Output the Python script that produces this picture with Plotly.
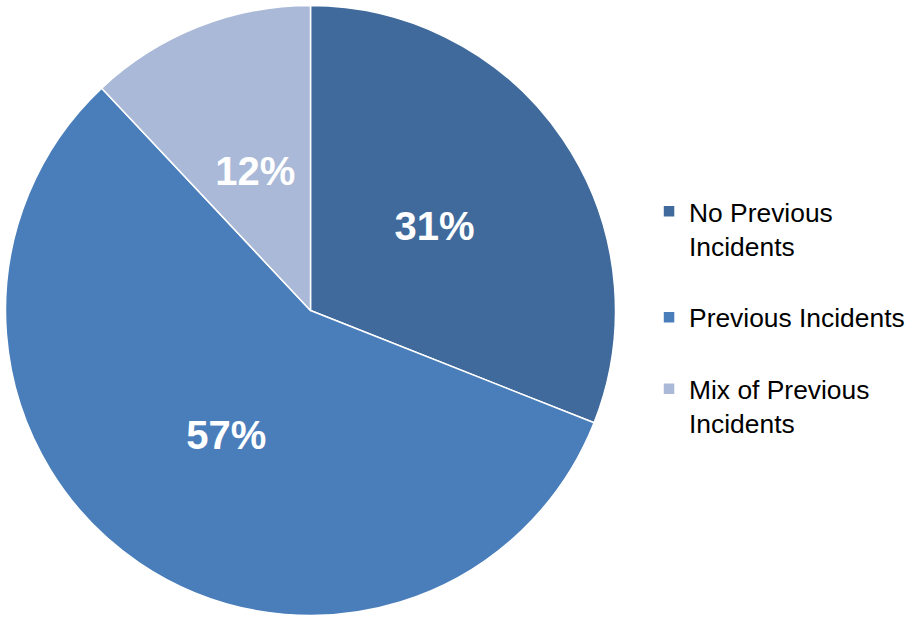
import textwrap
import plotly.graph_objects as go

categories = ["No Previous Incidents", "Previous Incidents", "Mix of Previous Incidents"]
values = [31, 57, 12]
colors = ["#416A9C", "#4A7EBB", "#A9B9D7"]

# legend text: wrap long names, pad entries so the legend rows are spread out
legend_lines = [3, 2, 2]
labels = []
for name, n in zip(categories, legend_lines):
    lines = textwrap.wrap(name, 18)
    lines += ["\u00a0"] * (n - len(lines))
    labels.append("<br>".join(lines))

W, H, T = 909, 619, 0
cx, cy, r = 310.5, 310.5, 305      # pie centre / radius in pixels
plot_h = H - T

def dom(radius):
    x = [(cx - radius) / W, (cx + radius) / W]
    y = [1 - (cy - T + radius) / plot_h, 1 - (cy - T - radius) / plot_h]
    return dict(x=x, y=y)

font = "Liberation Sans, Arial, sans-serif"

fig = go.Figure()
fig.add_trace(go.Pie(
    labels=labels,
    values=values,
    sort=False,
    direction="clockwise",
    rotation=0,
    marker=dict(colors=colors, line=dict(color="white", width=1.5)),
    textinfo="none",
    domain=dom(r),
    showlegend=True,
))
# transparent ring that only carries the percentage labels
fig.add_trace(go.Pie(
    labels=labels,
    values=values,
    sort=False,
    direction="clockwise",
    rotation=0,
    hole=0.5,
    marker=dict(colors=["rgba(0,0,0,0)"] * 3, line=dict(width=0)),
    texttemplate="%{percent:.0%}",
    textposition="inside",
    insidetextorientation="horizontal",
    insidetextfont=dict(family=font, size=40, color="white", weight="bold"),
    domain=dom(200),
    showlegend=False,
    hoverinfo="skip",
))

fig.update_layout(
    width=W, height=H,
    margin=dict(l=0, r=0, t=T, b=0, autoexpand=False),
    paper_bgcolor="white",
    plot_bgcolor="white",
    font=dict(family=font),
    legend=dict(
        x=0.714, y=0.697, xanchor="left", yanchor="top",
        font=dict(size=26.4, color="#000000"),
        valign="top",
    ),
)

post = (
    "document.documentElement.style.overflow='hidden';"
    "document.body.style.margin='0';"
    "document.body.style.overflow='hidden';"
)

fig.write_html("out.html", config={"displayModeBar": False}, post_script=post)
